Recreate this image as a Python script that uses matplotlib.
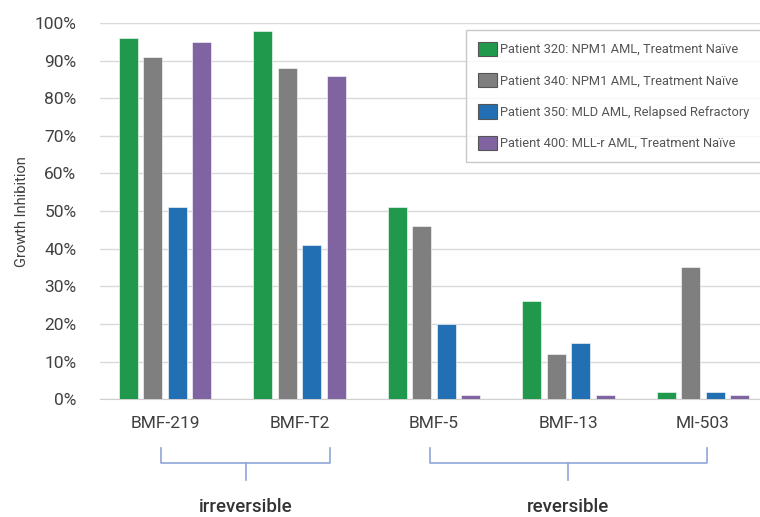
import matplotlib.pyplot as plt
import numpy as np
from matplotlib.transforms import blended_transform_factory
from matplotlib.ticker import PercentFormatter

plt.rcParams['font.family'] = ['Roboto', 'DejaVu Sans']

compounds = ["BMF-219", "BMF-T2", "BMF-5", "BMF-13", "MI-503"]
patients = ["Patient 320: NPM1 AML, Treatment Naïve",
            "Patient 340: NPM1 AML, Treatment Naïve",
            "Patient 350: MLD AML, Relapsed Refractory",
            "Patient 400: MLL-r AML, Treatment Naïve"]
p320 = [96, 98, 51, 26, 2]
p340 = [91, 88, 46, 12, 35]
p350 = [51, 41, 20, 15, 2]
p400 = [95, 86, 1, 1, 1]
groups = ["irreversible", "reversible"]
group_span = [(-0.03, 1.23), (1.97, 4.03)]

colors = ["#21994d", "#7f7f7f", "#2270b3", "#8064a2"]

fig = plt.figure(figsize=(7.6, 5.17), dpi=100)
ax = fig.add_axes([0.1316, 0.228, 0.8684, 0.7275])

x = np.arange(len(compounds))
w = 0.14
step = 0.182
series = [p320, p340, p350, p400]
for i, vals in enumerate(series):
    ax.bar(x + (i - 1.5) * step, np.array(vals) / 100, width=w, color=colors[i],
           edgecolor="white", linewidth=0.4, label=patients[i], zorder=3)

ax.set_ylim(0, 1.0)
ax.set_xlim(-0.483, 4.424)
ax.yaxis.set_major_locator(plt.MultipleLocator(0.1))
ax.yaxis.set_major_formatter(PercentFormatter(1.0, decimals=0))
ax.grid(axis="y", color="#d9d9d9", linewidth=1, zorder=0)
for s in ["top", "right", "left"]:
    ax.spines[s].set_visible(False)
ax.spines["bottom"].set_color("#d0d0d0")
ax.tick_params(axis="y", length=0, pad=17, labelsize=12.5, labelcolor="#404040")
ax.tick_params(axis="x", length=0, pad=12, labelsize=12.5, labelcolor="#404040")
ax.set_xticks(x)
ax.set_xticklabels(compounds)
ax.set_ylabel("Growth Inhibition", fontsize=10.5, color="#404040", labelpad=4)

# brackets under the category labels
tr = blended_transform_factory(ax.transData, ax.transAxes)
y_top, y_mid, y_tip = -0.13, -0.17, -0.215
for name, (x0, x1) in zip(groups, group_span):
    xc = (x0 + x1) / 2
    ax.plot([x0, x0, x1, x1], [y_top, y_mid, y_mid, y_top], color="#8da5d6",
            lw=1.2, transform=tr, clip_on=False, solid_joinstyle="round")
    ax.plot([xc, xc], [y_mid, y_tip], color="#8da5d6", lw=1.2,
            transform=tr, clip_on=False)
    ax.text(xc, -0.288, name, transform=tr, ha="center", va="center",
            fontsize=13.5, color="#333333", fontweight="medium")

leg = ax.legend(loc="upper left", bbox_to_anchor=(466 / 760, 1 - 30 / 517),
                bbox_transform=fig.transFigure, fontsize=9.3, frameon=True,
                fancybox=False, edgecolor="#bbbbbb", labelspacing=1.3,
                handlelength=1.5, handleheight=1.35, handletextpad=0.2,
                borderpad=0.9, borderaxespad=0)
for txt in leg.get_texts():
    txt.set_color("#555555")
for h in leg.legend_handles:
    h.set_edgecolor("#555555")
    h.set_linewidth(0.8)

fig.savefig("out.png", dpi=100)
